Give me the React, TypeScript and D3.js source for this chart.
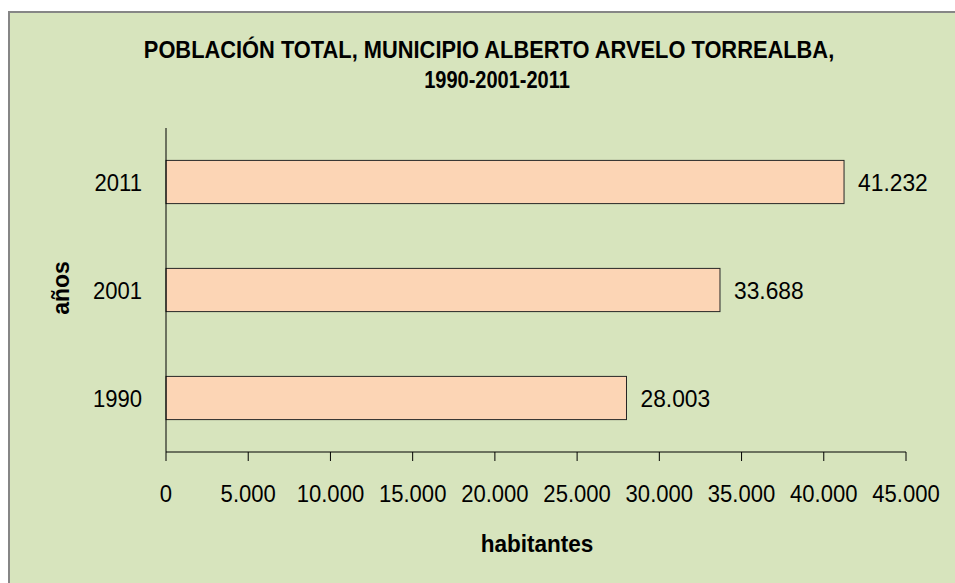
import React from "react";
import * as d3 from "d3";

const categories = ["2011", "2001", "1990"];
const values = [41232, 33688, 28003];
const xTicks = [0, 5000, 10000, 15000, 20000, 25000, 30000, 35000, 40000, 45000];
const titleLines = ["POBLACIÓN TOTAL, MUNICIPIO ALBERTO ARVELO TORREALBA,", "1990-2001-2011"];
const xTitle = "habitantes";
const yTitle = "años";

const W = 955;
const H = 583;
const FONT = "'Liberation Sans', Arial, sans-serif";

const fmt = (v: number) => d3.format(",")(v).replace(/,/g, ".");

function T({
  x,
  y,
  sx = 1,
  anchor = "start",
  size = 24,
  bold = false,
  children,
}: {
  x: number;
  y: number;
  sx?: number;
  anchor?: "start" | "middle" | "end";
  size?: number;
  bold?: boolean;
  children: React.ReactNode;
}) {
  return (
    <g transform={`translate(${x},${y}) scale(${sx},1)`}>
      <text
        x={0}
        y={0}
        textAnchor={anchor}
        fontFamily={FONT}
        fontWeight={bold ? "bold" : "normal"}
        fontSize={size}
        fill="#000"
      >
        {children}
      </text>
    </g>
  );
}

export default function App() {
  const plot = { left: 166, right: 906, top: 128, bottom: 452 };
  const x = d3.scaleLinear().domain([0, 45000]).range([plot.left, plot.right]);
  const y = d3
    .scaleBand<string>()
    .domain(categories)
    .range([plot.top, plot.bottom])
    .paddingInner(0.6)
    .paddingOuter(0.3);

  return (
    <svg
      width={W}
      height={H}
      style={{ position: "absolute", left: 0, top: 0, background: "#ffffff" }}
    >
      <rect x={9} y={12} width={980} height={600} fill="#d7e4bd" stroke="#868686" strokeWidth={2} />
      <T x={489} y={58} sx={0.95} anchor="middle" size={23} bold>
        {titleLines[0]}
      </T>
      <T x={497} y={88} sx={0.87} anchor="middle" size={23} bold>
        {titleLines[1]}
      </T>
      {categories.map((c, i) => (
        <g key={c}>
          <rect
            x={x(0)}
            y={y(c)!}
            width={x(values[i]) - x(0)}
            height={y.bandwidth()}
            fill="#fcd5b5"
            stroke="#262626"
            strokeWidth={1}
          />
          <T x={x(values[i]) + 14} y={y(c)! + y.bandwidth() / 2 + 9} sx={0.95} size={24}>
            {fmt(values[i])}
          </T>
          <T x={142} y={y(c)! + y.bandwidth() / 2 + 9} sx={0.92} anchor="end" size={24}>
            {c}
          </T>
        </g>
      ))}
      <line x1={plot.left} x2={plot.left} y1={plot.top} y2={plot.bottom} stroke="#000" strokeWidth={1} />
      <line x1={plot.left} x2={plot.right} y1={plot.bottom} y2={plot.bottom} stroke="#000" strokeWidth={1} />
      {xTicks.map((t) => (
        <g key={t}>
          <line x1={x(t)} x2={x(t)} y1={plot.bottom} y2={plot.bottom + 9} stroke="#000" strokeWidth={1} />
          <T x={x(t)} y={502} sx={0.92} anchor="middle" size={24}>
            {fmt(t)}
          </T>
        </g>
      ))}
      <T x={537} y={552} sx={0.98} anchor="middle" size={23} bold>
        {xTitle}
      </T>
      <g transform="translate(69, 288) rotate(-90)">
        <text textAnchor="middle" fontFamily={FONT} fontWeight="bold" fontSize={23} fill="#000">
          {yTitle}
        </text>
      </g>
    </svg>
  );
}
